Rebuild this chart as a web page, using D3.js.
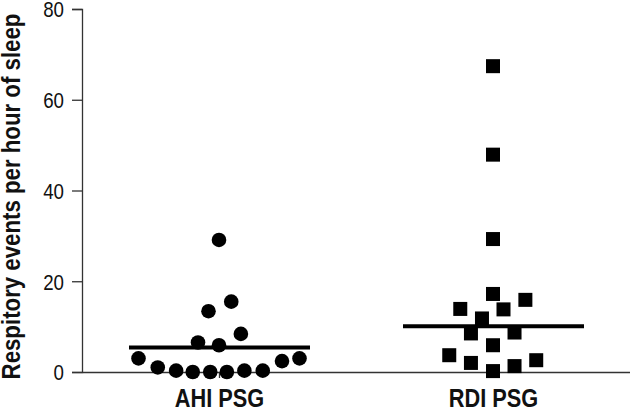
<!DOCTYPE html>
<html>
<head>
<meta charset="utf-8">
<script src="https://cdn.jsdelivr.net/npm/d3@7"></script>
<style>
  body { margin: 0; background: #fff; }
  text { font-family: "Liberation Sans", Arial, sans-serif; }
</style>
</head>
<body>
<svg id="vis"></svg>
<script>
const categories = ["AHI PSG", "RDI PSG"];
const yTicks = [0, 20, 40, 60, 80];
const yLabel = "Respitory events per hour of sleep";

// values, with column offset in marker widths
const ahiValues = [29.1, 15.5, 13.4, 8.4, 6.5, 5.9, 3.0, 2.4, 3.0, 1.0, 0.3, 0, 0, 0, 0.3, 0.3];
const ahiJitter = [0, 0.7, -0.6, 1.25, -1.2, 0, -4.6, 3.6, 4.6, -3.5, -2.45, -1.5, -0.5, 0.45, 1.45, 2.5];
const rdiValues = [67.4, 47.9, 29.3, 17.2, 15.9, 13.9, 13.8, 11.8, 8.5, 8.7, 5.9, 3.7, 2.0, 2.6, 1.3, 0.2];
const rdiJitter = [0, 0, 0, 0, 1.85, -1.87, 0.6, -0.63, -1.26, 1.23, 0, -2.5, -1.26, 2.47, 1.23, 0];
const means = [5.4, 10.1];

const width = 630, height = 411;
const margin = {top: 9, right: 0, bottom: 39, left: 82};
const narrow = 0.87; // no narrow font installed, squeeze instead

const svg = d3.select("#vis").attr("width", width).attr("height", height);

const x = d3.scalePoint().domain(categories)
    .range([margin.left, width - margin.right]).padding(0.5);
const y = d3.scaleLinear().domain([0, 80]).range([height - margin.bottom, margin.top]);
const jitter = d3.scaleLinear().domain([-1, 1]).range([-17.5, 17.5]);

// y axis
const yAxis = svg.append("g")
    .attr("transform", `translate(${margin.left},0)`)
    .call(d3.axisLeft(y).tickValues(yTicks).tickSize(10));
yAxis.select(".domain").attr("stroke", "#333").attr("stroke-width", 1.3);
yAxis.selectAll(".tick line").attr("stroke", "#333").attr("stroke-width", 1.3);
yAxis.selectAll(".tick text")
    .attr("font-size", 21.5)
    .attr("fill", "#111")
    .attr("x", -18 / narrow)
    .attr("dy", "0.36em")
    .attr("transform", `scale(${narrow},1)`);

// x axis
const xAxis = svg.append("g")
    .attr("transform", `translate(0,${y(0)})`)
    .call(d3.axisBottom(x).tickSize(6).tickSizeOuter(0));
xAxis.select(".domain").attr("stroke", "#333").attr("stroke-width", 1.3);
xAxis.selectAll(".tick line").attr("stroke", "#333").attr("stroke-width", 1.3);
xAxis.selectAll(".tick text")
    .attr("font-size", 25)
    .attr("font-weight", "bold")
    .attr("fill", "#111")
    .attr("y", 35.5)
    .attr("dy", 0)
    .attr("transform", `scale(${narrow},1)`);

svg.append("text")
    .attr("transform", `translate(20,${(y(0) + y(80)) / 2 + 6}) rotate(-90) scale(0.89,1)`)
    .attr("text-anchor", "middle")
    .attr("font-size", 25)
    .attr("font-weight", "bold")
    .attr("fill", "#111")
    .text(yLabel);

// mean lines
svg.selectAll("line.mean").data(means)
    .join("line")
    .attr("class", "mean")
    .attr("x1", (d, i) => x(categories[i]) - 90)
    .attr("x2", (d, i) => x(categories[i]) + 91)
    .attr("y1", d => y(d))
    .attr("y2", d => y(d))
    .attr("stroke", "#000")
    .attr("stroke-width", 4);

// AHI circles
svg.selectAll("circle.ahi").data(ahiValues)
    .join("circle")
    .attr("class", "ahi")
    .attr("cx", (d, i) => x(categories[0]) + jitter(ahiJitter[i]))
    .attr("cy", d => y(d))
    .attr("r", 7.3)
    .attr("fill", "#000");

// RDI squares
const s = 14;
svg.selectAll("rect.rdi").data(rdiValues)
    .join("rect")
    .attr("class", "rdi")
    .attr("x", (d, i) => x(categories[1]) + jitter(rdiJitter[i]) - s / 2)
    .attr("y", d => y(d) - s / 2)
    .attr("width", s)
    .attr("height", s)
    .attr("fill", "#000");
</script>
</body>
</html>
